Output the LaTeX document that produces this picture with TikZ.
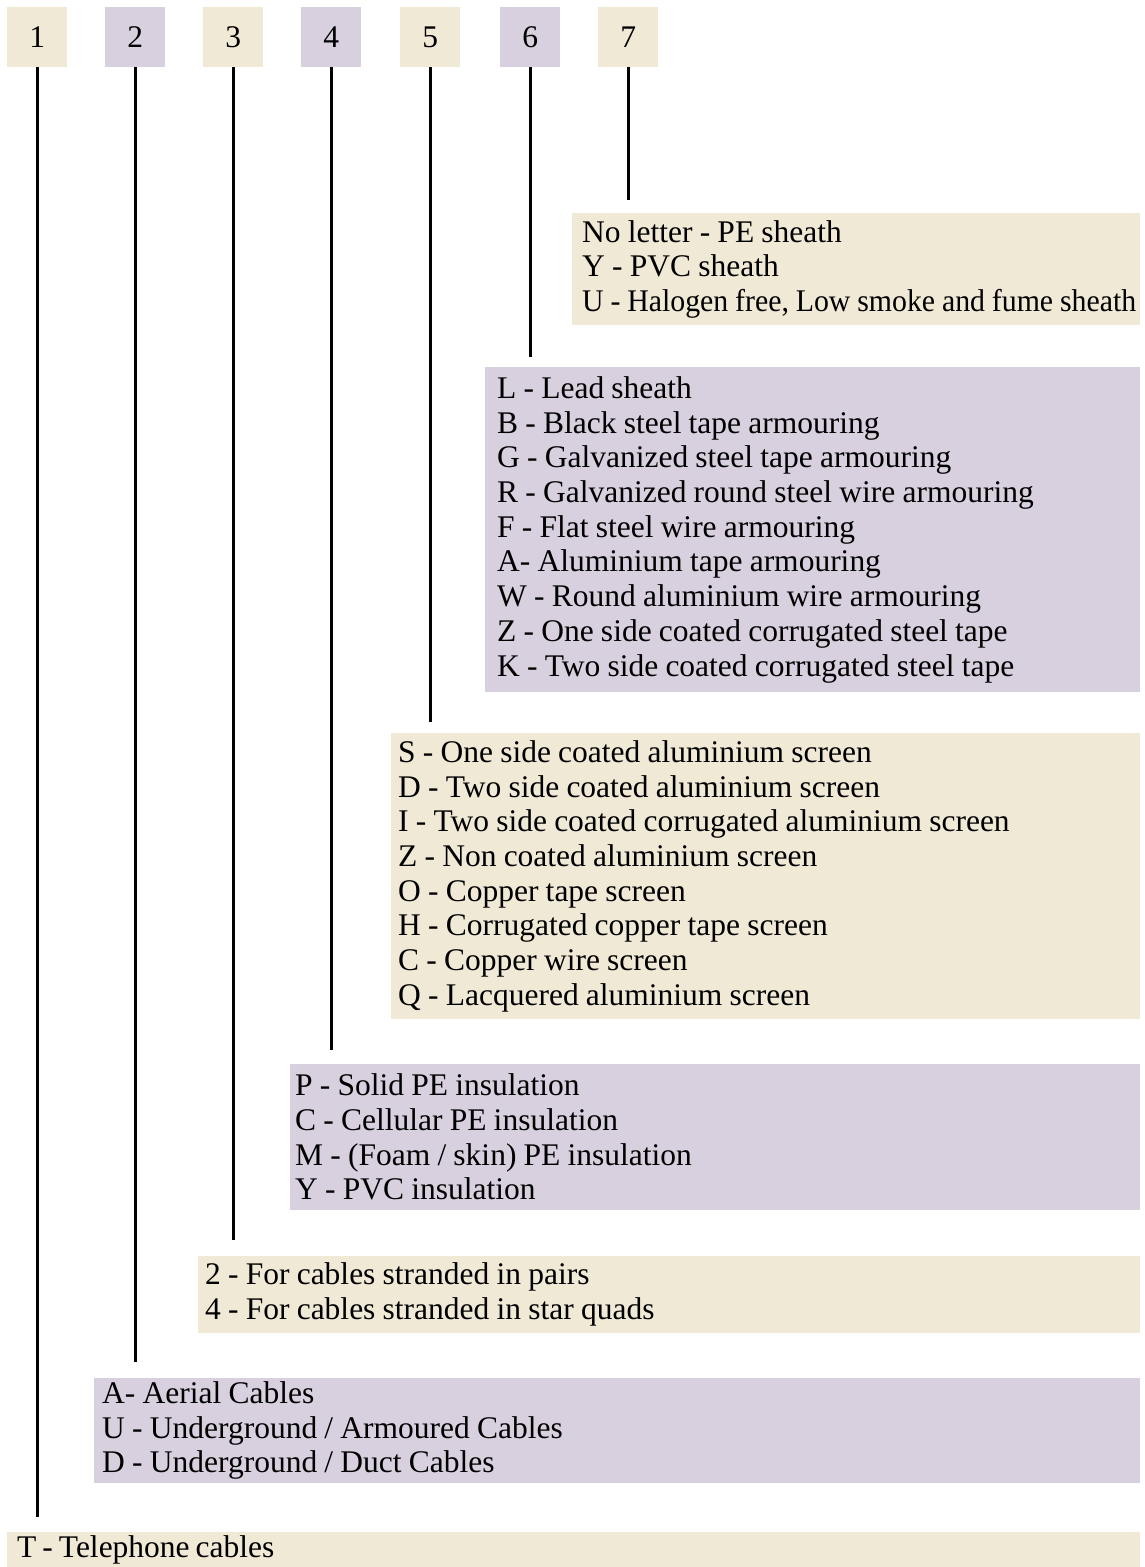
\documentclass[tikz,border=0pt]{standalone}
\usepackage{fontspec}
\usepackage{graphicx}
\setmainfont{Liberation Serif}
\definecolor{beige}{RGB}{240,233,213}
\definecolor{lav}{RGB}{216,208,223}
\newcommand{\tsp}{\spaceskip=7.2pt\xspaceskip=7.2pt\relax}
\begin{document}
\begin{tikzpicture}[x=1pt,y=1pt,
  font=\fontsize{31.5}{34.7}\selectfont,
  numbox/.style={anchor=north west, minimum width=60pt, minimum height=60pt, inner sep=0pt},
  listbox/.style={anchor=north west, inner ysep=0pt, align=left},
  conn/.style={line width=3pt}]
\useasboundingbox (0,0) rectangle (1145,-1567);
% number boxes
\node[numbox, fill=beige] (n1) at (7,-7) {1};
\node[numbox, fill=lav]   (n2) at (105,-7) {2};
\node[numbox, fill=beige] (n3) at (203,-7) {3};
\node[numbox, fill=lav]   (n4) at (301,-7) {4};
\node[numbox, fill=beige] (n5) at (400,-7) {5};
\node[numbox, fill=lav]   (n6) at (500,-7) {6};
\node[numbox, fill=beige] (n7) at (598,-7) {7};
% description boxes
\node[listbox, fill=beige, inner xsep=10pt, minimum width=568pt, minimum height=112pt, text width=548pt] (b7) at (572,-213)
 {\tsp No letter - PE sheath\\Y - PVC sheath\\\scalebox{0.947}[1]{U - Halogen free, Low smoke and fume sheath}};
\node[listbox, fill=lav, inner xsep=12pt, minimum width=655pt, minimum height=325pt, text width=631pt] (b6) at (485,-367)
 {\tsp L - Lead sheath\\B - Black steel tape armouring\\G - Galvanized steel tape armouring\\R - Galvanized round steel wire armouring\\F - Flat steel wire armouring\\A- Aluminium tape armouring\\W - Round aluminium wire armouring\\Z - One side coated corrugated steel tape\\K - Two side coated corrugated steel tape};
\node[listbox, fill=beige, inner xsep=7pt, minimum width=749pt, minimum height=286pt, text width=735pt] (b5) at (391,-733)
 {\tsp S - One side coated aluminium screen\\D - Two side coated aluminium screen\\I - Two side coated corrugated aluminium screen\\Z - Non coated aluminium screen\\O - Copper tape screen\\H - Corrugated copper tape screen\\C - Copper wire screen\\Q - Lacquered aluminium screen};
\node[listbox, fill=lav, inner xsep=5pt, minimum width=850pt, minimum height=146pt, text width=840pt] (b4) at (290,-1064)
 {\tsp P - Solid PE insulation\\C - Cellular PE insulation\\M - (Foam / skin) PE insulation\\Y - PVC insulation};
\node[listbox, fill=beige, inner xsep=7pt, minimum width=942pt, minimum height=77pt, text width=928pt] (b3) at (198,-1256)
 {\tsp 2 - For cables stranded in pairs\\4 - For cables stranded in star quads};
\node[listbox, fill=lav, inner xsep=8pt, minimum width=1046pt, minimum height=105pt, text width=1030pt] (b2) at (94,-1378)
 {\tsp A- Aerial Cables\\U - Underground / Armoured Cables\\D - Underground / Duct Cables};
\node[listbox, fill=beige, inner xsep=10pt, minimum width=1133pt, minimum height=35pt, text width=1113pt] (b1) at (7,-1532)
 {\spaceskip=6pt\xspaceskip=6pt T - Telephone cables};
% connector ends
\coordinate (e1) at (37,-1517);
\coordinate (e2) at (135,-1362);
\coordinate (e3) at (233,-1240);
\coordinate (e4) at (331,-1050);
\coordinate (e5) at (430,-722);
\coordinate (e6) at (530,-357);
\coordinate (e7) at (628,-200);
\foreach \i in {1,...,7} {\draw[conn] (n\i.south) -- (n\i.south |- e\i);}
\end{tikzpicture}
\end{document}
